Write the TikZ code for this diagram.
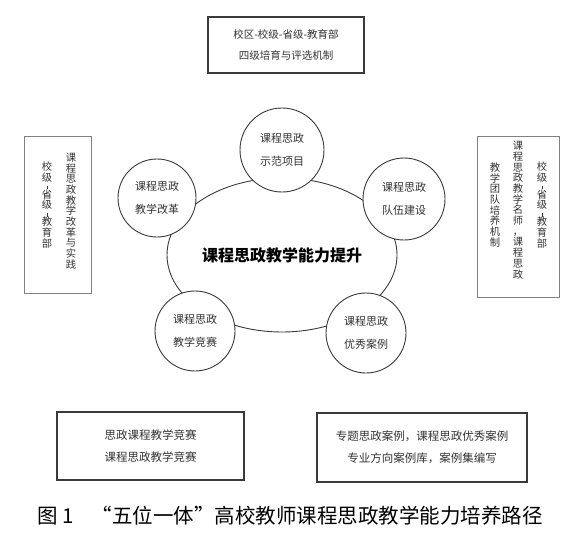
\documentclass[tikz,border=0pt]{standalone}
\usepackage{fontspec}
\usepackage{graphicx}
\setmainfont{Noto Sans CJK SC}
\usetikzlibrary{shapes.geometric}
\newcommand{\vhy}{\rule{0.7pt}{3.5pt}}
\definecolor{txt}{HTML}{333333}
\definecolor{ln}{HTML}{3A3A3A}
\definecolor{lnl}{HTML}{808080}
\tikzset{
  plainbox/.style={draw=ln, line width=1.1pt, rectangle, inner sep=0pt, align=center, text=txt,
                   font=\fontsize{11.5}{22}\selectfont},
  sidebox/.style={draw=lnl, line width=0.9pt, rectangle, inner sep=0pt},
  vcol/.style={inner sep=0pt, align=center, text=txt, font=\fontsize{10.3}{10.7}\selectfont},
  topic/.style={circle, draw=ln, line width=0.9pt, fill=white, minimum size=82pt, inner sep=0pt,
                align=center, text=txt, font=\fontsize{11}{23}\selectfont},
}
\begin{document}
\begin{tikzpicture}[x=1pt, y=-1pt]
\useasboundingbox (0,0) rectangle (588,533);
\fill[white] (0,0) rectangle (588,533);

% top box
\node[plainbox, minimum width=156pt, minimum height=56pt, font=\fontsize{10.5}{21}\selectfont] (topbox) at (286,45)
  {校区-校级-省级-教育部\\四级培育与评选机制};

% left side box
\node[sidebox, minimum width=67pt, minimum height=157pt] (leftbox) at (57.5,214.5) {};
\node[vcol] (l1) at (71,211) {课\\程\\思\\政\\教\\学\\改\\革\\与\\实\\践};
\node[vcol] (l2) at (47,205) {校\\级\\[-3pt]\vhy\\[-1.5pt]省\\级\\[-3pt]\vhy\\[-1.5pt]教\\育\\部};

% right side box
\node[sidebox, minimum width=82pt, minimum height=161pt] (rightbox) at (518,216.5) {};
\node[vcol] (r1) at (542,205) {校\\级\\[-3pt]\vhy\\[-1.5pt]省\\级\\[-3pt]\vhy\\[-1.5pt]教\\育\\部};
\node[vcol] (r2) at (518,210) {课\\程\\思\\政\\教\\学\\名\\师\\，\\课\\程\\思\\政};
\node[vcol] (r3) at (495,205) {教\\学\\团\\队\\培\\养\\机\\制};

% bottom boxes
\node[plainbox, minimum width=187pt, minimum height=68pt] (botleft) at (150.5,446)
  {思政课程教学竞赛\\课程思政教学竞赛};
\node[plainbox, minimum width=210pt, minimum height=69pt] (botright) at (422,447.5)
  {专题思政案例，课程思政优秀案例\\专业方向案例库，案例集编写};

% central ellipse
\node[ellipse, draw=ln, line width=0.9pt, minimum width=230pt, minimum height=154pt, inner sep=0pt,
      text=black, font=\fontsize{16}{16}\selectfont\bfseries] (core) at (282,255) {课程思政教学能力提升};

% five topic circles
\node[topic, minimum size=84pt] (demo) at (282,150) {课程思政\\示范项目};
\node[topic, minimum size=78pt] (reform) at (157,198) {课程思政\\教学改革};
\node[topic, minimum size=82pt] (team) at (404,199) {课程思政\\队伍建设};
\node[topic, minimum size=80pt] (contest) at (195,331) {课程思政\\教学竞赛};
\node[topic, minimum size=80pt] (cases) at (366,333) {课程思政\\优秀案例};

% caption
\node[text=black, font=\fontsize{20.5}{21}\selectfont, inner sep=0pt] (caption) at (290,516)
  {图 1\hspace{0.9em}“五位一体”高校教师课程思政教学能力培养路径};
\end{tikzpicture}
\end{document}
